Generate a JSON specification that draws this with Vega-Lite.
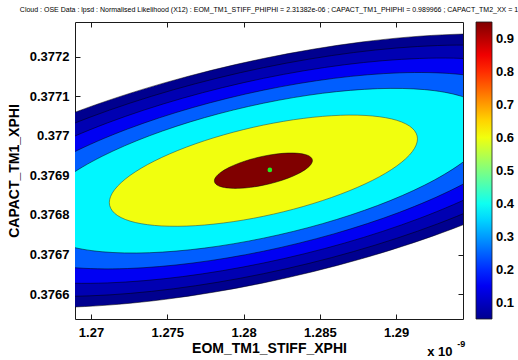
{
  "$schema": "https://vega.github.io/schema/vega-lite/v6.json",
  "width": 388,
  "height": 297,
  "autosize": {"type": "none"},
  "padding": {"left": 75, "top": 22, "right": 55, "bottom": 41},
  "background": "white",
  "title": {
    "text": "Cloud : OSE Data : lpsd :  Normalised Likelihood (X12) :  EOM_TM1_STIFF_PHIPHI = 2.31382e-06 ; CAPACT_TM1_PHIPHI = 0.989966 ; CAPACT_TM2_XX = 1",
    "font": "Liberation Sans",
    "fontSize": 7,
    "fontWeight": "normal",
    "color": "#000",
    "anchor": "middle",
    "offset": 9
  },
  "config": {
    "view": {"stroke": "#1a1a1a", "strokeWidth": 1},
    "axis": {
      "domain": false,
      "grid": false,
      "tickColor": "#1a1a1a",
      "tickSize": -5,
      "tickWidth": 1,
      "labelFont": "Liberation Sans",
      "labelFontSize": 13,
      "labelFontWeight": "bold",
      "labelColor": "#000",
      "titleFont": "Liberation Sans",
      "titleFontSize": 14,
      "titleFontWeight": "bold",
      "titleColor": "#000"
    }
  },
  "datasets": {
    "navy": [
      {"i":0,"x":1.306149,"y":0.3771102,"v":0.05},{"i":1,"x":1.305302,"y":0.3770300,"v":0.05},{"i":2,"x":1.302819,"y":0.3769418,"v":0.05},{"i":3,"x":1.298870,"y":0.3768516,"v":0.05},{"i":4,"x":1.293724,"y":0.3767654,"v":0.05},{"i":5,"x":1.287729,"y":0.3766893,"v":0.05},{"i":6,"x":1.281298,"y":0.3766283,"v":0.05},{"i":7,"x":1.274867,"y":0.3765867,"v":0.05},{"i":8,"x":1.268872,"y":0.3765673,"v":0.05},{"i":9,"x":1.263726,"y":0.3765713,"v":0.05},{"i":10,"x":1.259777,"y":0.3765986,"v":0.05},{"i":11,"x":1.257294,"y":0.3766472,"v":0.05},{"i":12,"x":1.256447,"y":0.3767138,"v":0.05},{"i":13,"x":1.257294,"y":0.3767940,"v":0.05},{"i":14,"x":1.259777,"y":0.3768822,"v":0.05},{"i":15,"x":1.263726,"y":0.3769724,"v":0.05},{"i":16,"x":1.268872,"y":0.3770586,"v":0.05},{"i":17,"x":1.274867,"y":0.3771347,"v":0.05},{"i":18,"x":1.281298,"y":0.3771957,"v":0.05},{"i":19,"x":1.287729,"y":0.3772373,"v":0.05},{"i":20,"x":1.293724,"y":0.3772567,"v":0.05},{"i":21,"x":1.298870,"y":0.3772527,"v":0.05},{"i":22,"x":1.302819,"y":0.3772255,"v":0.05},{"i":23,"x":1.305302,"y":0.3771768,"v":0.05}
    ],
    "dark": [
      {"i":0,"x":1.304116,"y":0.3770940,"v":0.085},{"i":1,"x":1.303338,"y":0.3770204,"v":0.085},{"i":2,"x":1.301058,"y":0.3769394,"v":0.085},{"i":3,"x":1.297433,"y":0.3768565,"v":0.085},{"i":4,"x":1.292707,"y":0.3767774,"v":0.085},{"i":5,"x":1.287203,"y":0.3767075,"v":0.085},{"i":6,"x":1.281298,"y":0.3766515,"v":0.085},{"i":7,"x":1.275393,"y":0.3766133,"v":0.085},{"i":8,"x":1.269889,"y":0.3765955,"v":0.085},{"i":9,"x":1.265163,"y":0.3765992,"v":0.085},{"i":10,"x":1.261538,"y":0.3766242,"v":0.085},{"i":11,"x":1.259258,"y":0.3766688,"v":0.085},{"i":12,"x":1.258480,"y":0.3767300,"v":0.085},{"i":13,"x":1.259258,"y":0.3768036,"v":0.085},{"i":14,"x":1.261538,"y":0.3768846,"v":0.085},{"i":15,"x":1.265163,"y":0.3769675,"v":0.085},{"i":16,"x":1.269889,"y":0.3770466,"v":0.085},{"i":17,"x":1.275393,"y":0.3771165,"v":0.085},{"i":18,"x":1.281298,"y":0.3771725,"v":0.085},{"i":19,"x":1.287203,"y":0.3772107,"v":0.085},{"i":20,"x":1.292707,"y":0.3772285,"v":0.085},{"i":21,"x":1.297433,"y":0.3772248,"v":0.085},{"i":22,"x":1.301058,"y":0.3771998,"v":0.085},{"i":23,"x":1.303338,"y":0.3771552,"v":0.085}
    ],
    "blue": [
      {"i":0,"x":1.301756,"y":0.3770751,"v":0.15},{"i":1,"x":1.301058,"y":0.3770092,"v":0.15},{"i":2,"x":1.299015,"y":0.3769365,"v":0.15},{"i":3,"x":1.295764,"y":0.3768622,"v":0.15},{"i":4,"x":1.291527,"y":0.3767914,"v":0.15},{"i":5,"x":1.286593,"y":0.3767287,"v":0.15},{"i":6,"x":1.281298,"y":0.3766785,"v":0.15},{"i":7,"x":1.276004,"y":0.3766442,"v":0.15},{"i":8,"x":1.271069,"y":0.3766282,"v":0.15},{"i":9,"x":1.266832,"y":0.3766315,"v":0.15},{"i":10,"x":1.263581,"y":0.3766540,"v":0.15},{"i":11,"x":1.261538,"y":0.3766940,"v":0.15},{"i":12,"x":1.260840,"y":0.3767489,"v":0.15},{"i":13,"x":1.261538,"y":0.3768149,"v":0.15},{"i":14,"x":1.263581,"y":0.3768875,"v":0.15},{"i":15,"x":1.266832,"y":0.3769618,"v":0.15},{"i":16,"x":1.271069,"y":0.3770327,"v":0.15},{"i":17,"x":1.276004,"y":0.3770953,"v":0.15},{"i":18,"x":1.281298,"y":0.3771455,"v":0.15},{"i":19,"x":1.286593,"y":0.3771798,"v":0.15},{"i":20,"x":1.291527,"y":0.3771958,"v":0.15},{"i":21,"x":1.295764,"y":0.3771925,"v":0.15},{"i":22,"x":1.299015,"y":0.3771700,"v":0.15},{"i":23,"x":1.301058,"y":0.3771300,"v":0.15}
    ],
    "light": [
      {"i":0,"x":1.299133,"y":0.3770542,"v":0.245},{"i":1,"x":1.298525,"y":0.3769967,"v":0.245},{"i":2,"x":1.296743,"y":0.3769334,"v":0.245},{"i":3,"x":1.293909,"y":0.3768686,"v":0.245},{"i":4,"x":1.290216,"y":0.3768068,"v":0.245},{"i":5,"x":1.285914,"y":0.3767522,"v":0.245},{"i":6,"x":1.281298,"y":0.3767084,"v":0.245},{"i":7,"x":1.276682,"y":0.3766786,"v":0.245},{"i":8,"x":1.272381,"y":0.3766646,"v":0.245},{"i":9,"x":1.268687,"y":0.3766675,"v":0.245},{"i":10,"x":1.265853,"y":0.3766870,"v":0.245},{"i":11,"x":1.264071,"y":0.3767219,"v":0.245},{"i":12,"x":1.263463,"y":0.3767698,"v":0.245},{"i":13,"x":1.264071,"y":0.3768273,"v":0.245},{"i":14,"x":1.265853,"y":0.3768906,"v":0.245},{"i":15,"x":1.268687,"y":0.3769554,"v":0.245},{"i":16,"x":1.272381,"y":0.3770172,"v":0.245},{"i":17,"x":1.276682,"y":0.3770718,"v":0.245},{"i":18,"x":1.281298,"y":0.3771156,"v":0.245},{"i":19,"x":1.285914,"y":0.3771455,"v":0.245},{"i":20,"x":1.290216,"y":0.3771594,"v":0.245},{"i":21,"x":1.293909,"y":0.3771565,"v":0.245},{"i":22,"x":1.296743,"y":0.3771370,"v":0.245},{"i":23,"x":1.298525,"y":0.3771021,"v":0.245}
    ],
    "cyan": [
      {"i":0,"x":1.296248,"y":0.3770312,"v":0.38},{"i":1,"x":1.295738,"y":0.3769830,"v":0.38},{"i":2,"x":1.294245,"y":0.3769299,"v":0.38},{"i":3,"x":1.291869,"y":0.3768756,"v":0.38},{"i":4,"x":1.288773,"y":0.3768238,"v":0.38},{"i":5,"x":1.285167,"y":0.3767780,"v":0.38},{"i":6,"x":1.281298,"y":0.3767414,"v":0.38},{"i":7,"x":1.277429,"y":0.3767163,"v":0.38},{"i":8,"x":1.273823,"y":0.3767046,"v":0.38},{"i":9,"x":1.270727,"y":0.3767070,"v":0.38},{"i":10,"x":1.268351,"y":0.3767234,"v":0.38},{"i":11,"x":1.266858,"y":0.3767527,"v":0.38},{"i":12,"x":1.266348,"y":0.3767928,"v":0.38},{"i":13,"x":1.266858,"y":0.3768410,"v":0.38},{"i":14,"x":1.268351,"y":0.3768941,"v":0.38},{"i":15,"x":1.270727,"y":0.3769484,"v":0.38},{"i":16,"x":1.273823,"y":0.3770002,"v":0.38},{"i":17,"x":1.277429,"y":0.3770460,"v":0.38},{"i":18,"x":1.281298,"y":0.3770826,"v":0.38},{"i":19,"x":1.285167,"y":0.3771077,"v":0.38},{"i":20,"x":1.288773,"y":0.3771194,"v":0.38},{"i":21,"x":1.291869,"y":0.3771170,"v":0.38},{"i":22,"x":1.294245,"y":0.3771006,"v":0.38},{"i":23,"x":1.295738,"y":0.3770713,"v":0.38}
    ],
    "yellow": [
      {"i":0,"x":1.291396,"y":0.3769925,"v":0.6},{"i":1,"x":1.291052,"y":0.3769600,"v":0.6},{"i":2,"x":1.290043,"y":0.3769241,"v":0.6},{"i":3,"x":1.288438,"y":0.3768874,"v":0.6},{"i":4,"x":1.286347,"y":0.3768525,"v":0.6},{"i":5,"x":1.283911,"y":0.3768215,"v":0.6},{"i":6,"x":1.281298,"y":0.3767967,"v":0.6},{"i":7,"x":1.278685,"y":0.3767798,"v":0.6},{"i":8,"x":1.276249,"y":0.3767719,"v":0.6},{"i":9,"x":1.274158,"y":0.3767736,"v":0.6},{"i":10,"x":1.272553,"y":0.3767846,"v":0.6},{"i":11,"x":1.271545,"y":0.3768044,"v":0.6},{"i":12,"x":1.271200,"y":0.3768315,"v":0.6},{"i":13,"x":1.271545,"y":0.3768640,"v":0.6},{"i":14,"x":1.272553,"y":0.3768999,"v":0.6},{"i":15,"x":1.274158,"y":0.3769366,"v":0.6},{"i":16,"x":1.276249,"y":0.3769716,"v":0.6},{"i":17,"x":1.278685,"y":0.3770025,"v":0.6},{"i":18,"x":1.281298,"y":0.3770273,"v":0.6},{"i":19,"x":1.283911,"y":0.3770442,"v":0.6},{"i":20,"x":1.286347,"y":0.3770521,"v":0.6},{"i":21,"x":1.288438,"y":0.3770504,"v":0.6},{"i":22,"x":1.290043,"y":0.3770394,"v":0.6},{"i":23,"x":1.291052,"y":0.3770196,"v":0.6}
    ],
    "red": [
      {"i":0,"x":1.284511,"y":0.3769376,"v":0.95},{"i":1,"x":1.284401,"y":0.3769273,"v":0.95},{"i":2,"x":1.284080,"y":0.3769159,"v":0.95},{"i":3,"x":1.283570,"y":0.3769042,"v":0.95},{"i":4,"x":1.282905,"y":0.3768931,"v":0.95},{"i":5,"x":1.282130,"y":0.3768832,"v":0.95},{"i":6,"x":1.281298,"y":0.3768753,"v":0.95},{"i":7,"x":1.280467,"y":0.3768699,"v":0.95},{"i":8,"x":1.279692,"y":0.3768674,"v":0.95},{"i":9,"x":1.279026,"y":0.3768680,"v":0.95},{"i":10,"x":1.278516,"y":0.3768715,"v":0.95},{"i":11,"x":1.278195,"y":0.3768778,"v":0.95},{"i":12,"x":1.278085,"y":0.3768864,"v":0.95},{"i":13,"x":1.278195,"y":0.3768967,"v":0.95},{"i":14,"x":1.278516,"y":0.3769081,"v":0.95},{"i":15,"x":1.279026,"y":0.3769198,"v":0.95},{"i":16,"x":1.279692,"y":0.3769309,"v":0.95},{"i":17,"x":1.280467,"y":0.3769408,"v":0.95},{"i":18,"x":1.281298,"y":0.3769487,"v":0.95},{"i":19,"x":1.282130,"y":0.3769541,"v":0.95},{"i":20,"x":1.282905,"y":0.3769566,"v":0.95},{"i":21,"x":1.283570,"y":0.3769560,"v":0.95},{"i":22,"x":1.284080,"y":0.3769525,"v":0.95},{"i":23,"x":1.284401,"y":0.3769462,"v":0.95}
    ],
    "best": [{"x":1.28172,"y":0.376914}],
    "expo": [{"x":1.29203,"y":0.3764533,"base":"x 10","sup":"-9"}]
  },
  "resolve": {"axis": {"x": "independent", "y": "independent"}},
  "layer": [
    {
      "encoding": {
        "x": {"field": "x", "type": "quantitative",
              "scale": {"domain": [1.26895, 1.29438], "nice": false, "zero": false},
              "axis": {"orient": "bottom", "values": [1.27, 1.275, 1.28, 1.285, 1.29], "format": ".3~f",
                       "title": "EOM_TM1_STIFF_XPHI", "labelPadding": 12, "titlePadding": 2}},
        "y": {"field": "y", "type": "quantitative",
              "scale": {"domain": [0.376537, 0.377288], "nice": false, "zero": false},
              "axis": {"orient": "left", "values": [0.3766, 0.3767, 0.3768, 0.3769, 0.377, 0.3771, 0.3772], "format": ".4~f",
                       "title": "CAPACT_TM1_XPHI", "labelPadding": 11, "titlePadding": 8}},
        "fill": {"field": "v", "type": "quantitative",
                 "scale": {"type": "linear", "domain": [0.05, 0.1625, 0.3875, 0.6125, 0.8375, 0.95],
                           "range": ["#00008f", "#0000ff", "#00ffff", "#ffff00", "#ff0000", "#800000"], "interpolate": "rgb"},
                 "legend": {"orient": "none", "legendX": 401, "legendY": 0, "title": null, "direction": "vertical",
                            "gradientLength": 297, "gradientThickness": 16, "gradientStrokeColor": "#1a1a1a", "gradientStrokeWidth": 0.8,
                            "values": [0.1, 0.2, 0.3, 0.4, 0.5, 0.6, 0.7, 0.8, 0.9], "format": ".1f",
                            "labelFont": "Liberation Sans", "labelFontSize": 13, "labelFontWeight": "bold", "labelColor": "#000", "labelOffset": 4}},
        "order": {"field": "i", "type": "quantitative"}
      },
      "layer": [
        {"data": {"name": "navy"}, "mark": {"type": "line", "interpolate": "cardinal-closed", "clip": true, "stroke": "#000", "strokeWidth": 0.5}},
        {"data": {"name": "dark"}, "mark": {"type": "line", "interpolate": "cardinal-closed", "clip": true, "stroke": "#000", "strokeWidth": 0.5}},
        {"data": {"name": "blue"}, "mark": {"type": "line", "interpolate": "cardinal-closed", "clip": true, "stroke": "#000", "strokeWidth": 0.5}},
        {"data": {"name": "light"}, "mark": {"type": "line", "interpolate": "cardinal-closed", "clip": true, "stroke": "#000", "strokeWidth": 0.5}},
        {"data": {"name": "cyan"}, "mark": {"type": "line", "interpolate": "cardinal-closed", "clip": true, "stroke": "#000", "strokeWidth": 0.5}},
        {"data": {"name": "yellow"}, "mark": {"type": "line", "interpolate": "cardinal-closed", "clip": true, "stroke": "#333", "strokeWidth": 0.5}},
        {"data": {"name": "red"}, "mark": {"type": "line", "interpolate": "cardinal-closed", "clip": true, "stroke": "#000", "strokeWidth": 0.5}}
      ]
    },
    {
      "data": {"name": "best"},
      "mark": {"type": "point", "filled": true, "color": "#22ee22", "size": 22, "opacity": 1},
      "encoding": {
        "x": {"field": "x", "type": "quantitative",
              "axis": {"orient": "top", "values": [1.27, 1.275, 1.28, 1.285, 1.29], "labels": false, "title": null}},
        "y": {"field": "y", "type": "quantitative",
              "axis": {"orient": "right", "values": [0.3766, 0.3767, 0.3768, 0.3769, 0.377, 0.3771, 0.3772], "labels": false, "title": null}}
      }
    },
    {
      "data": {"name": "expo"},
      "mark": {"type": "text", "align": "left", "baseline": "middle", "font": "Liberation Sans", "fontSize": 13, "fontWeight": "bold", "color": "#000"},
      "encoding": {
        "x": {"field": "x", "type": "quantitative", "axis": null},
        "y": {"field": "y", "type": "quantitative", "axis": null},
        "text": {"field": "base"}
      }
    },
    {
      "data": {"name": "expo"},
      "mark": {"type": "text", "align": "left", "baseline": "middle", "font": "Liberation Sans", "fontSize": 9, "fontWeight": "bold", "color": "#000", "dx": 30, "dy": -8},
      "encoding": {
        "x": {"field": "x", "type": "quantitative", "axis": null},
        "y": {"field": "y", "type": "quantitative", "axis": null},
        "text": {"field": "sup"}
      }
    }
  ]
}
